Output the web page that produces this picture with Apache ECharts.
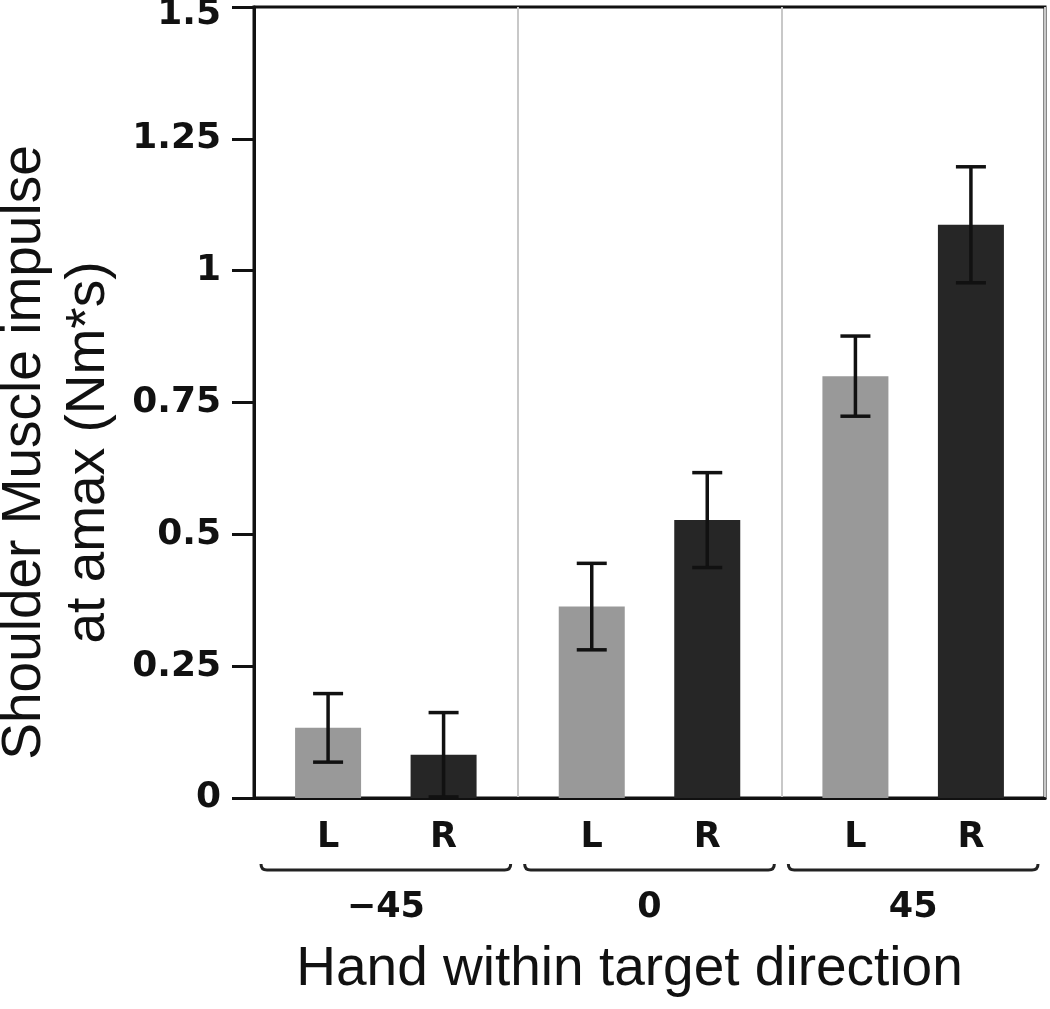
<!DOCTYPE html>
<html>
<head>
<meta charset="utf-8">
<script src="https://cdn.jsdelivr.net/npm/echarts@6/dist/echarts.min.js"></script>
<style>
  html, body { margin: 0; padding: 0; background: #fff; }
  #chart { width: 1050px; height: 1009px; }
</style>
</head>
<body>
<div id="chart"></div>
<script>
  // hand direction groups and the two hands
  const groups = ['\u221245', '0', '45'];
  const hands = ['L', 'R'];
  const yTicks = [0, 0.25, 0.5, 0.75, 1, 1.25, 1.5];

  // mean impulse and error per group
  const leftMean = [0.133, 0.363, 0.800];
  const leftErr = [0.065, 0.082, 0.076];
  const rightMean = [0.082, 0.527, 1.087];
  const rightErr = [0.080, 0.090, 0.110];

  const barWidth = 66;
  const barGapRatio = 0.75;
  const tickFont = 'DejaVu Sans';
  const titleFont = 'Liberation Sans';

  const chart = echarts.init(document.getElementById('chart'));

  function errorSeries(name, mean, err, side) {
    return {
      type: 'custom',
      name: name + ' err',
      z: 10,
      data: mean.map((m, i) => [i, m - err[i], m + err[i]]),
      renderItem: function (params, api) {
        const shift = side * (barWidth + barWidth * barGapRatio) / 2;
        const lo = api.coord([api.value(0), api.value(1)]);
        const hi = api.coord([api.value(0), api.value(2)]);
        const x = lo[0] + shift;
        const cap = 15;
        const style = { stroke: '#111', lineWidth: 3.5 };
        return {
          type: 'group',
          children: [
            { type: 'line', shape: { x1: x, y1: lo[1], x2: x, y2: hi[1] }, style: style },
            { type: 'line', shape: { x1: x - cap, y1: hi[1], x2: x + cap, y2: hi[1] }, style: style },
            { type: 'line', shape: { x1: x - cap, y1: lo[1], x2: x + cap, y2: lo[1] }, style: style }
          ]
        };
      }
    };
  }

  const option = {
    animation: false,
    backgroundColor: '#fff',
    grid: {
      left: 254,
      right: 5,
      top: 7,
      bottom: 211,
      show: true,
      borderColor: '#111',
      borderWidth: 3,
      containLabel: false,
      outerBoundsMode: 'none'
    },
    xAxis: {
      type: 'category',
      data: groups,
      axisLine: { lineStyle: { color: '#111', width: 3 } },
      axisTick: { show: false },
      splitLine: { show: true, lineStyle: { color: '#c8c8c8', width: 2 } },
      axisLabel: {
        margin: 92,
        color: '#111',
        fontFamily: tickFont,
        fontWeight: 'bold',
        fontSize: 35
      },
      name: 'Hand within target direction',
      nameLocation: 'middle',
      nameGap: 144,
      nameTextStyle: {
        color: '#111',
        fontFamily: titleFont,
        fontSize: 55,
        padding: [0, 40, 0, 0]
      }
    },
    yAxis: {
      type: 'value',
      min: 0,
      max: 1.5,
      interval: 0.25,
      axisLine: { show: true, lineStyle: { color: '#111', width: 3 } },
      axisTick: { show: true, length: 22, lineStyle: { color: '#111', width: 3 } },
      splitLine: { show: false },
      axisLabel: {
        margin: 33,
        color: '#111',
        fontFamily: tickFont,
        fontWeight: 'bold',
        fontSize: 36,
        formatter: function (v) {
          if (yTicks.indexOf(v) < 0) return '';
          // top label sits lower so it stays on the page
          return v === yTicks[yTicks.length - 1] ? '{top|' + v + '}' : String(v);
        },
        rich: {
          top: {
            fontFamily: tickFont,
            fontWeight: 'bold',
            fontSize: 36,
            color: '#111',
            padding: [16, 0, 0, 0]
          }
        }
      },
      name: 'Shoulder Muscle impulse\nat amax (Nm*s)',
      nameLocation: 'middle',
      nameRotate: 90,
      nameGap: 127,
      nameTextStyle: {
        color: '#111',
        fontFamily: titleFont,
        fontSize: 55,
        lineHeight: 64,
        padding: [0, 100, 0, 0]
      }
    },
    series: [
      {
        type: 'bar',
        name: hands[0],
        data: leftMean,
        barWidth: barWidth,
        barGap: (barGapRatio * 100) + '%',
        itemStyle: { color: '#999999' },
        label: {
          show: true,
          position: 'bottom',
          distance: 22,
          formatter: '{a}',
          color: '#111',
          fontFamily: tickFont,
          fontWeight: 'bold',
          fontSize: 35
        }
      },
      {
        type: 'bar',
        name: hands[1],
        data: rightMean,
        barWidth: barWidth,
        itemStyle: { color: '#262626' },
        label: {
          show: true,
          position: 'bottom',
          distance: 22,
          formatter: '{a}',
          color: '#111',
          fontFamily: tickFont,
          fontWeight: 'bold',
          fontSize: 35
        }
      },
      errorSeries(hands[0], leftMean, leftErr, -1),
      errorSeries(hands[1], rightMean, rightErr, 1),
      {
        // brace under each direction group
        type: 'custom',
        name: 'braces',
        clip: false,
        silent: true,
        data: groups.map((g, i) => [i, 0]),
        renderItem: function (params, api) {
          const base = api.coord([api.value(0), 0]);
          const band = api.size([1, 0])[0];
          const x0 = base[0] - band / 2 + 7;
          const x1 = base[0] + band / 2 - 7;
          const y = base[1] + 72;
          const r = 6;
          return {
            type: 'path',
            shape: {
              pathData: 'M' + x0 + ' ' + (y - r) +
                ' Q' + x0 + ' ' + y + ' ' + (x0 + r) + ' ' + y +
                ' L' + (x1 - r) + ' ' + y +
                ' Q' + x1 + ' ' + y + ' ' + x1 + ' ' + (y - r)
            },
            style: { stroke: '#222', lineWidth: 3, fill: null }
          };
        }
      }
    ]
  };

  chart.setOption(option);
  window.addEventListener('resize', function () {
    chart.resize();
  });
</script>
</body>
</html>
